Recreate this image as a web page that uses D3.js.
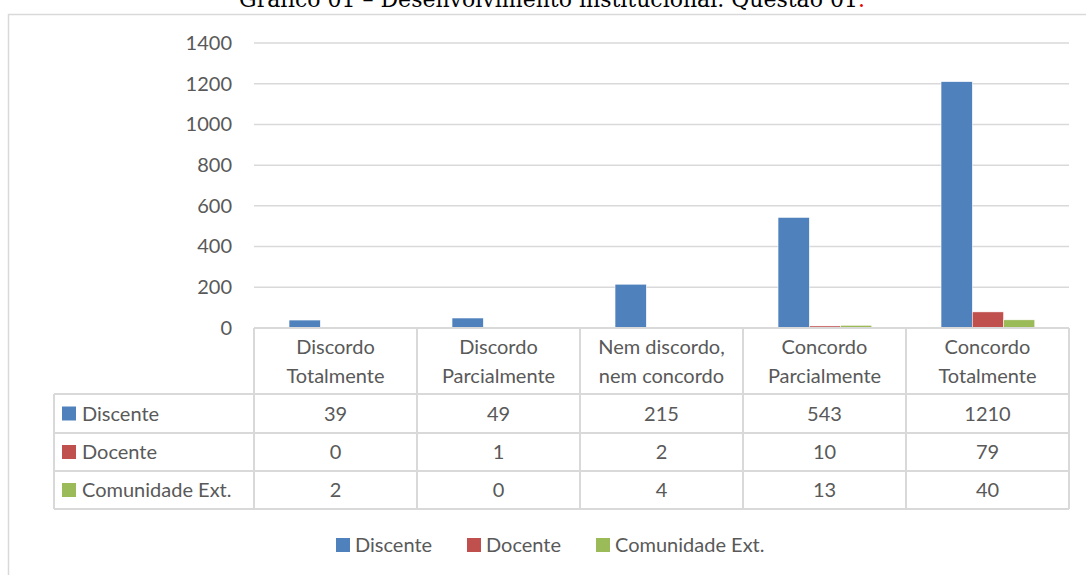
<!DOCTYPE html>
<html>
<head>
<meta charset="utf-8">
<script src="https://cdn.jsdelivr.net/npm/d3@7"></script>
<style>
  body { margin: 0; background: #fff; }
  text { font-family: Lato, "Open Sans", sans-serif; fill: #595959; }
</style>
</head>
<body>
<div class="chart"></div>
<script>
// data
var categories = [["Discordo", "Totalmente"], ["Discordo", "Parcialmente"], ["Nem discordo,", "nem concordo"], ["Concordo", "Parcialmente"], ["Concordo", "Totalmente"]];
var seriesNames = ["Discente", "Docente", "Comunidade Ext."];
var discente = [39, 49, 215, 543, 1210];
var docente = [0, 1, 2, 10, 79];
var comunidade = [2, 0, 4, 13, 40];
var yTicks = [0, 200, 400, 600, 800, 1000, 1200, 1400];
var colors = ["#4F81BD", "#C0504D", "#9BBB59"];

var allSeries = [discente, docente, comunidade];
var fontSize = "20px";

var svgWidth = 1086, svgHeight = 575;
var svg = d3.select(".chart").append("svg")
  .attr("width", svgWidth)
  .attr("height", svgHeight);

// outer frame (runs off the right and bottom)
svg.append("rect")
  .attr("x", 8.5).attr("y", 14.5)
  .attr("width", 1100).attr("height", 600)
  .attr("fill", "none").attr("stroke", "#D9D9D9").attr("stroke-width", 1.5);

// title, partly cut at the top like the original
var title = svg.append("text")
  .attr("x", 552).attr("y", 7)
  .attr("text-anchor", "middle")
  .style("font-family", "'DejaVu Serif', serif")
  .style("font-size", "22px")
  .style("fill", "#000");
title.append("tspan").style("fill", "#000").text("Gráfico 01 – Desenvolvimento institucional. Questão 01");
title.append("tspan").style("fill", "#E00000").text(".");

var plotLeft = 254, plotRight = 1069;
var y = d3.scaleLinear().domain([0, 1400]).range([328, 43]);
var x0 = d3.scaleBand().domain(d3.range(categories.length)).range([plotLeft, plotRight]).padding(0);
var bw = x0.bandwidth();
var x1 = d3.scaleBand().domain(d3.range(seriesNames.length)).range([bw * 0.215, bw * 0.79]).padding(0);

// gridlines
svg.append("g").selectAll("line")
  .data(yTicks.filter(function(d) { return d > 0; }))
  .enter().append("line")
  .attr("x1", plotLeft).attr("x2", plotRight)
  .attr("y1", function(d) { return y(d); }).attr("y2", function(d) { return y(d); })
  .attr("stroke", "#D9D9D9").attr("stroke-width", 1.5);

// y axis labels
var yAxis = d3.axisLeft(y).tickValues(yTicks).tickFormat(d3.format("d")).tickSize(0).tickPadding(0);
var yg = svg.append("g")
  .attr("transform", "translate(232,0)")
  .call(yAxis);
yg.select(".domain").remove();
yg.selectAll("text")
  .style("font-family", "Lato, 'Open Sans', sans-serif")
  .style("font-size", fontSize)
  .attr("fill", "#595959");

// bars
var groups = svg.append("g").selectAll("g")
  .data(categories)
  .enter().append("g")
  .attr("transform", function(d, i) { return "translate(" + x0(i) + ",0)"; });

groups.selectAll("rect")
  .data(function(d, i) { return allSeries.map(function(s, k) { return { k: k, v: s[i] }; }); })
  .enter().append("rect")
  .attr("x", function(d) { return x1(d.k); })
  .attr("width", x1.bandwidth())
  .attr("y", function(d) { return y(d.v); })
  .attr("height", function(d) { return y(0) - y(d.v); })
  .attr("fill", function(d) { return colors[d.k]; })
  .attr("stroke", "#fff").attr("stroke-width", 0.5);

// data table
var tableLeft = 54;
var rowY = [328, 394, 433, 471, 509];
var gridColor = "#D9D9D9";
var table = svg.append("g");

// horizontal lines
table.append("line")
  .attr("x1", plotLeft).attr("x2", plotRight).attr("y1", rowY[0]).attr("y2", rowY[0])
  .attr("stroke", gridColor).attr("stroke-width", 2);
rowY.slice(1).forEach(function(yy) {
  table.append("line")
    .attr("x1", tableLeft).attr("x2", plotRight).attr("y1", yy).attr("y2", yy)
    .attr("stroke", gridColor).attr("stroke-width", 2);
});
// vertical lines
table.append("line")
  .attr("x1", tableLeft).attr("x2", tableLeft).attr("y1", rowY[1]).attr("y2", rowY[4])
  .attr("stroke", gridColor).attr("stroke-width", 2);
d3.range(categories.length + 1).forEach(function(i) {
  var xx = plotLeft + i * bw;
  table.append("line")
    .attr("x1", xx).attr("x2", xx).attr("y1", rowY[0]).attr("y2", rowY[4])
    .attr("stroke", gridColor).attr("stroke-width", 2);
});

// header text
categories.forEach(function(lines, i) {
  lines.forEach(function(t, j) {
    table.append("text")
      .attr("x", x0(i) + bw / 2)
      .attr("y", 347 + j * 29)
      .attr("dy", "0.35em")
      .attr("text-anchor", "middle")
      .style("font-size", fontSize)
      .text(t);
  });
});

// series rows
seriesNames.forEach(function(name, k) {
  var cy = (rowY[k + 1] + rowY[k + 2]) / 2;
  table.append("rect")
    .attr("x", 62).attr("y", cy - 7).attr("width", 14).attr("height", 14)
    .attr("fill", colors[k]);
  table.append("text")
    .attr("x", 82).attr("y", cy).attr("dy", "0.35em")
    .style("font-size", fontSize)
    .text(name);
  allSeries[k].forEach(function(v, i) {
    table.append("text")
      .attr("x", x0(i) + bw / 2).attr("y", cy).attr("dy", "0.35em")
      .attr("text-anchor", "middle")
      .style("font-size", fontSize)
      .text(v);
  });
});

// legend
var legendX = [336, 467, 596];
var legend = svg.append("g");
seriesNames.forEach(function(name, k) {
  legend.append("rect")
    .attr("x", legendX[k]).attr("y", 538).attr("width", 14).attr("height", 14)
    .attr("fill", colors[k]);
  legend.append("text")
    .attr("x", legendX[k] + 19).attr("y", 545).attr("dy", "0.35em")
    .style("font-size", fontSize)
    .text(name);
});
</script>
</body>
</html>
